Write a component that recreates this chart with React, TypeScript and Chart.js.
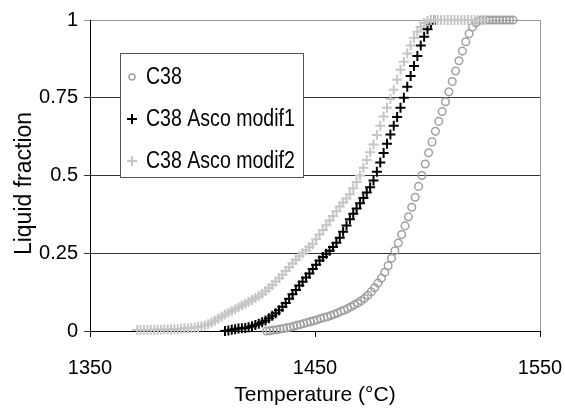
import { useEffect, useRef } from 'react';
import { Chart, registerables } from 'chart.js';

Chart.register(...registerables);

const xTickValues = [1350, 1450, 1550];
const yTickValues = [0, 0.25, 0.5, 0.75, 1];
const seriesNames = ['C38', 'C38 Asco modif1', 'C38 Asco modif2'];
const xTitle = 'Temperature (°C)';
const yTitle = 'Liquid fraction';

// [temperature °C, liquid fraction]
const c38Points = [
  [1428.5, 0], [1430, 0.001], [1431.5, 0.003], [1433, 0.004], [1434.5, 0.006], [1436, 0.008],
  [1437.5, 0.01], [1439, 0.012], [1440.5, 0.015], [1442, 0.018], [1443.5, 0.021], [1445, 0.024],
  [1446.5, 0.027], [1448, 0.03], [1449.5, 0.033], [1451, 0.036], [1452.5, 0.04], [1454, 0.043],
  [1455.5, 0.046], [1457, 0.05], [1458.5, 0.054], [1460, 0.058], [1461.5, 0.063], [1463, 0.067],
  [1464.5, 0.072], [1466, 0.078], [1467.5, 0.084], [1469, 0.09], [1470.5, 0.097], [1472, 0.105],
  [1473.5, 0.115], [1475, 0.126], [1476.5, 0.139], [1478, 0.154], [1479.5, 0.17], [1481, 0.189],
  [1482.5, 0.21], [1484, 0.234], [1485.5, 0.258], [1487, 0.283], [1488.5, 0.31], [1490, 0.338],
  [1491.5, 0.367], [1493, 0.398], [1494.5, 0.43], [1496, 0.465], [1497.5, 0.5], [1499, 0.537],
  [1500.5, 0.573], [1502, 0.608], [1503.5, 0.642], [1505, 0.674], [1506.5, 0.706], [1508, 0.737],
  [1509.5, 0.769], [1511, 0.802], [1512.5, 0.836], [1514, 0.869], [1515.5, 0.9], [1517, 0.93],
  [1518.5, 0.956], [1520, 0.977], [1521.5, 0.991], [1523, 0.998], [1524.5, 1], [1526, 1],
  [1527.5, 1], [1529, 1], [1530.5, 1], [1532, 1], [1533.5, 1], [1535, 1], [1536.5, 1], [1538, 1],
];

const modif1Points = [
  [1410, 0], [1411.5, 0.002], [1413, 0.004], [1414.5, 0.006], [1416, 0.008], [1417.5, 0.009],
  [1419, 0.01], [1420.5, 0.012], [1422, 0.015], [1423.5, 0.019], [1425, 0.023], [1426.5, 0.028],
  [1428, 0.034], [1429.5, 0.041], [1431, 0.049], [1432.5, 0.057], [1434, 0.067], [1435.5, 0.078],
  [1437, 0.09], [1438.5, 0.104], [1440, 0.118], [1441.5, 0.132], [1443, 0.146], [1444.5, 0.158],
  [1446, 0.172], [1447.5, 0.185], [1449, 0.199], [1450.5, 0.213], [1452, 0.227], [1453.5, 0.238],
  [1455, 0.248], [1456.5, 0.258], [1458, 0.27], [1459.5, 0.284], [1461, 0.3], [1462.5, 0.319],
  [1464, 0.339], [1465.5, 0.359], [1467, 0.377], [1468.5, 0.394], [1470, 0.411], [1471.5, 0.428],
  [1473, 0.445], [1474.5, 0.462], [1476, 0.484], [1477.5, 0.512], [1479, 0.542], [1480.5, 0.572],
  [1482, 0.602], [1483.5, 0.632], [1485, 0.66], [1486.5, 0.688], [1488, 0.718], [1489.5, 0.75],
  [1491, 0.785], [1492.5, 0.82], [1494, 0.852], [1495.5, 0.884], [1497, 0.918], [1498.5, 0.946],
  [1500, 0.97], [1501.5, 0.988], [1503, 1],
];

const modif2Points = [
  [1371, 0.003], [1372.5, 0.003], [1374, 0.003], [1375.5, 0.003], [1377, 0.004], [1378.5, 0.004],
  [1380, 0.004], [1381.5, 0.004], [1383, 0.005], [1384.5, 0.005], [1386, 0.005], [1387.5, 0.006],
  [1389, 0.006], [1390.5, 0.007], [1392, 0.008], [1393.5, 0.009], [1395, 0.01], [1396.5, 0.011],
  [1398, 0.013], [1399.5, 0.015], [1401, 0.018], [1402.5, 0.022], [1404, 0.027], [1405.5, 0.033],
  [1407, 0.04], [1408.5, 0.047], [1410, 0.053], [1411.5, 0.059], [1413, 0.064], [1414.5, 0.07],
  [1416, 0.076], [1417.5, 0.082], [1419, 0.088], [1420.5, 0.094], [1422, 0.1], [1423.5, 0.106],
  [1425, 0.112], [1426.5, 0.12], [1428, 0.129], [1429.5, 0.138], [1431, 0.148], [1432.5, 0.159],
  [1434, 0.17], [1435.5, 0.181], [1437, 0.193], [1438.5, 0.205], [1440, 0.217], [1441.5, 0.229],
  [1443, 0.24], [1444.5, 0.25], [1446, 0.26], [1447.5, 0.27], [1449, 0.28], [1450.5, 0.295],
  [1452, 0.31], [1453.5, 0.325], [1455, 0.34], [1456.5, 0.355], [1458, 0.37], [1459.5, 0.385],
  [1461, 0.4], [1462.5, 0.413], [1464, 0.426], [1465.5, 0.44], [1467, 0.459], [1468.5, 0.479],
  [1470, 0.5], [1471.5, 0.525], [1473, 0.55], [1474.5, 0.575], [1476, 0.6], [1477.5, 0.63],
  [1479, 0.66], [1480.5, 0.69], [1482, 0.718], [1483.5, 0.746], [1485, 0.776], [1486.5, 0.808],
  [1488, 0.84], [1489.5, 0.866], [1491, 0.892], [1492.5, 0.918], [1494, 0.942], [1495.5, 0.962],
  [1497, 0.978], [1498.5, 0.99], [1500, 0.997], [1501.5, 1], [1503, 1], [1504.5, 1],
  [1506, 1], [1507.5, 1], [1509, 1], [1510.5, 1], [1512, 1], [1513.5, 1], [1515, 1],
  [1516.5, 1], [1518, 1], [1519.5, 1], [1521, 1], [1522.5, 1], [1524, 1], [1525.5, 1],
];

const FONT = "'Liberation Sans', Arial, sans-serif";

const toXY = (pts: number[][]) => pts.map(([x, y]) => ({ x, y }));

const frameAndLegend = {
  id: 'frameAndLegend',
  beforeDatasetsDraw(chart: any) {
    const { ctx, chartArea } = chart;
    ctx.save();
    // right border of plot area
    ctx.strokeStyle = '#999999';
    ctx.lineWidth = 1;
    ctx.beginPath();
    ctx.moveTo(Math.round(chartArea.right) + 0.5, chartArea.top);
    ctx.lineTo(Math.round(chartArea.right) + 0.5, chartArea.bottom);
    ctx.stroke();

    // y axis title
    ctx.save();
    ctx.translate(25, (chartArea.top + chartArea.bottom) / 2 + 8);
    ctx.rotate(-Math.PI / 2);
    ctx.font = `23px ${FONT}`;
    ctx.textAlign = 'center';
    ctx.textBaseline = 'middle';
    ctx.fillStyle = '#000000';
    ctx.fillText(yTitle, 0, 0);
    ctx.restore();

    // legend box
    const x0 = Math.round(chartArea.left + 30);
    const y0 = Math.round(chartArea.top + 33);
    const w = 183;
    const h = 124;
    ctx.fillStyle = '#ffffff';
    ctx.fillRect(x0, y0, w, h);
    ctx.strokeStyle = '#555555';
    ctx.strokeRect(x0 + 0.5, y0 + 0.5, w, h);

    const rowsY = [y0 + 24, y0 + 66, y0 + 108];
    const mx = x0 + 12;
    const tx = x0 + 26;
    chart.data.datasets.forEach((ds: any, i: number) => {
      const y = rowsY[i];
      ctx.strokeStyle = ds.borderColor;
      ctx.lineWidth = ds.pointBorderWidth;
      ctx.beginPath();
      if (ds.pointStyle === 'circle') {
        ctx.arc(mx, y, 3, 0, Math.PI * 2);
      } else {
        ctx.moveTo(mx - 5, y);
        ctx.lineTo(mx + 5, y);
        ctx.moveTo(mx, y - 5);
        ctx.lineTo(mx, y + 5);
      }
      ctx.stroke();
      ctx.save();
      ctx.translate(tx, y + 1);
      ctx.scale(0.85, 1);
      ctx.font = `23px ${FONT}`;
      ctx.textBaseline = 'middle';
      ctx.textAlign = 'left';
      ctx.fillStyle = '#000000';
      ctx.fillText(ds.label, 0, 0);
      ctx.restore();
    });
    ctx.restore();
  },
};

export default function App() {
  const ref = useRef<HTMLCanvasElement | null>(null);

  useEffect(() => {
    if (!ref.current) return;
    const chart = new Chart(ref.current, {
      type: 'scatter',
      data: {
        datasets: [
          {
            label: seriesNames[0],
            data: toXY(c38Points),
            pointStyle: 'circle',
            pointRadius: 3.8,
            pointBorderWidth: 1.5,
            borderColor: '#a0a0a0',
            pointBorderColor: '#a0a0a0',
            backgroundColor: 'rgba(0,0,0,0)',
            pointBackgroundColor: 'rgba(0,0,0,0)',
            showLine: false,
            clip: false,
            order: 3,
          } as any,
          {
            label: seriesNames[1],
            data: toXY(modif1Points),
            pointStyle: 'cross',
            pointRadius: 5,
            pointBorderWidth: 2,
            borderColor: '#000000',
            pointBorderColor: '#000000',
            backgroundColor: '#000000',
            showLine: false,
            clip: false,
            order: 2,
          } as any,
          {
            label: seriesNames[2],
            data: toXY(modif2Points),
            pointStyle: 'cross',
            pointRadius: 5,
            pointBorderWidth: 2,
            borderColor: '#c6c6c6',
            pointBorderColor: '#c6c6c6',
            backgroundColor: '#c6c6c6',
            showLine: false,
            clip: false,
            order: 1,
          } as any,
        ],
      },
      options: {
        responsive: false,
        animation: false,
        events: [],
        layout: { padding: { top: 20, right: 25, left: 0, bottom: 0 } },
        plugins: {
          legend: { display: false },
          tooltip: { enabled: false },
        },
        scales: {
          x: {
            type: 'linear',
            min: xTickValues[0],
            max: xTickValues[xTickValues.length - 1],
            afterBuildTicks: (scale: any) => {
              scale.ticks = xTickValues.map((v) => ({ value: v }));
            },
            afterFit: (scale: any) => {
              scale.height = 78;
              scale.paddingLeft = 0;
              scale.paddingRight = 0;
            },
            ticks: {
              color: '#000000',
              font: { family: FONT, size: 20 },
              padding: 19,
              maxRotation: 0,
              callback: (v: any) => String(v),
            },
            grid: {
              display: true,
              drawOnChartArea: false,
              drawTicks: true,
              tickLength: 6,
              color: '#000000',
            },
            border: { display: true, color: '#000000', width: 1 },
            title: {
              display: true,
              text: xTitle,
              color: '#000000',
              font: { family: FONT, size: 21 },
              padding: { top: 0, bottom: 1 },
            },
          },
          y: {
            type: 'linear',
            min: yTickValues[0],
            max: yTickValues[yTickValues.length - 1],
            afterBuildTicks: (scale: any) => {
              scale.ticks = yTickValues.map((v) => ({ value: v }));
            },
            afterFit: (scale: any) => {
              scale.width = 90;
              scale.paddingTop = 0;
              scale.paddingBottom = 0;
            },
            ticks: {
              color: '#000000',
              font: { family: FONT, size: 20 },
              padding: 6,
              callback: (v: any) => String(v),
            },
            grid: {
              display: true,
              drawOnChartArea: true,
              drawTicks: true,
              tickLength: 6,
              color: (c: any) => (c.tick && c.tick.value === 1 ? '#999999' : '#333333'),
            },
            border: { display: true, color: '#000000', width: 1 },
            title: { display: false },
          },
        },
      },
      plugins: [frameAndLegend],
    } as any);
    return () => chart.destroy();
  }, []);

  return (
    <div style={{ position: 'fixed', left: 0, top: 0, width: 565, height: 409, background: '#ffffff' }}>
      <canvas ref={ref} width={565} height={409} style={{ display: 'block' }} />
    </div>
  );
}
